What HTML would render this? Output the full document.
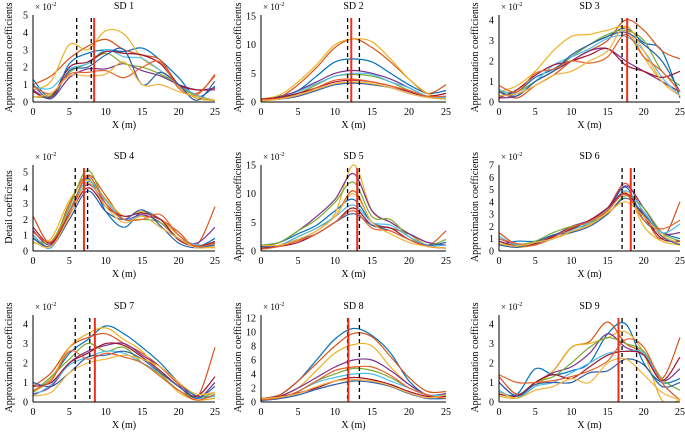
<!DOCTYPE html>
<html><head><meta charset="utf-8"><style>
body{margin:0;background:#fff}
svg{display:block;font-family:"Liberation Serif",serif}
</style></head><body>
<svg id="chart" width="685" height="432" viewBox="0 0 685 432"></svg>
<script>
// ---- data (values in units of 1e-2, sampled at X = 0,2.5,...,25 m) ----
const xSamples=[0,2.5,5,7.5,10,12.5,15,17.5,20,22.5,25];
const xTickLabels=[0,5,10,15,20,25];
const panelTitles=["SD 1","SD 2","SD 3","SD 4","SD 5","SD 6","SD 7","SD 8","SD 9"];
const yTitles=["Approximation coefficients","Approximation coefficients","Approximation coefficients","Detail coefficients","Approximation coefficients","Approximation coefficients","Approximation coefficients","Approximation coefficients","Approximation coefficients"];
const yTicks1=[0,1,2,3,4,5],yTicks2=[0,5,10,15],yTicks3=[0,1,2,3,4],yTicks4=[0,1,2,3,4,5],yTicks5=[0,5,10,15],yTicks6=[0,1,2,3,4,5,6,7],yTicks7=[0,1,2,3,4],yTicks8=[0,2,4,6,8,10,12],yTicks9=[0,1,2,3,4];
const dashedLines=[[6,8],[11.7,13.3],[17,19],[5.8,7.5],[11.7,13.3],[17,18.7],[5.8,7.8],[11.7,13.3],[17,19]];
const redLines=[8.4,12.2,17.7,7,13,18.2,8.5,11.8,16.5];
const sd1=[[1.3,0.3,2.2,2.8,3.0,2.9,3.1,2.4,1.4,0.3,0.9],[1.0,1.5,2.5,3.2,3.6,3.0,2.7,2.4,1.0,0.5,1.5],[0.7,1.2,3.3,3.0,4.1,3.9,2.5,1.8,0.9,0.2,0.1],[0.7,0.2,1.4,1.9,1.9,2.2,1.8,1.5,1.0,0.7,0.8],[0.3,0.4,1.7,2.2,2.8,2.2,2.0,1.6,1.0,0.3,0.1],[0.9,0.8,1.9,2.2,3.0,2.6,2.5,1.8,1.0,0.4,0.1],[0.6,0.3,2.0,2.3,2.9,2.8,2.7,2.2,1.0,0.7,0.7],[1.0,0.2,1.8,2.0,2.7,3.0,1.0,1.7,1.0,0.1,1.2],[0.9,0.5,1.6,1.7,1.8,1.4,2.0,2.3,0.8,0.4,1.6],[0.3,0.5,1.5,1.5,1.6,2.3,1.0,1.0,0.6,0.3,0.1]];
const sd2=[[0.5,1,2,4.5,7,7.5,7,5,3,1.5,2],[0.3,0.8,3,6,9.5,11,9.5,7,4,1.5,3],[0.5,1.2,3.5,6.5,10,11,10.5,7.5,4,1.5,0.5],[0.3,0.8,2,3.5,5,5.5,5,4,2.5,1,1],[0.4,0.7,1.5,3,4.5,4.8,4.5,3.5,2,1,0.5],[0.2,0.6,1.8,3.2,4.5,5,4.8,3.5,2.5,1,0.8],[0.5,0.8,1.5,2.5,3.5,3.8,3.5,2.8,1.8,1,1.5],[0.3,0.5,1,2,3,3.3,3,2.5,1.5,0.8,0.5],[0.4,0.6,1.2,2.5,3.8,4,3.5,2.8,2,1,1],[0.2,0.5,1.2,2.2,3.2,3.5,3.2,2.5,1.5,0.8,0.5]];
const sd3=[[0.3,0.5,1.2,1.6,2.2,2.8,3.2,3.6,2.9,2.5,0.2],[0.5,0.2,0.8,1.3,2.0,2.5,3.0,4.0,3.5,2.5,2.1],[0.5,0.8,1.5,2.5,3.2,3.3,3.5,3.6,2.2,1.0,0.5],[0.2,0.3,1.0,1.5,2.0,2.5,2.6,2.0,1.5,1.0,0.5],[0.5,0.5,1.0,1.5,2.2,2.8,3.3,3.5,3.0,1.5,0.8],[0.6,0.4,1.0,1.8,2.2,2.6,3.1,3.2,2.5,1.2,0.3],[0.2,0.6,1.3,1.8,2.0,2.3,2.6,1.8,1.5,1.2,1.5],[0.5,0.3,1.0,1.5,2.3,2.8,3.2,3.4,2.8,2.0,0.5],[0.8,0.5,1.4,1.6,2.0,1.9,2.2,3.3,2.2,1.5,0.5],[0.3,0.4,0.8,1.3,1.5,2.0,2.5,3.7,2.5,1.0,0.3]];
const sd4=[[1.0,0.3,2.5,4.6,2.5,1.5,2.5,2.0,1.0,0.3,0.8],[2.2,0.5,3.0,4.8,3.5,2.0,2.2,2.0,1.2,0.4,2.8],[0.5,0.8,3.2,4.5,3.3,2.2,2.5,2.0,1.0,0.3,0.2],[1.3,0.4,2.5,4.2,3.0,2.0,2.3,1.8,0.8,0.5,1.5],[0.8,0.6,2.8,5.1,3.0,2.0,2.0,1.8,0.8,0.3,0.5],[1.0,0.2,2.6,4.4,3.2,2.0,2.2,1.5,0.8,0.4,0.3],[1.5,0.5,2.3,4.0,2.8,2.2,2.4,2.0,0.7,0.3,0.6],[0.8,0.3,2.0,3.8,2.5,2.0,2.6,1.6,0.5,0.2,0.4],[1.2,0.6,2.5,4.7,3.0,2.0,2.0,2.3,1.0,0.3,0.5],[0.6,0.3,2.2,4.3,2.8,1.8,2.2,1.5,0.8,0.2,0.3]];
const sd5=[[1,1.5,3,4.5,7,9,5,4,3,1.5,1],[0.5,1,2.5,4,6,10.5,5,4,3,1,3.5],[0.5,1,2,3.5,6.5,15,7,5,3,1,0.5],[0.8,1.5,3.5,6,9,13.5,7,5,3,1.5,1],[1,1.5,3.5,5.5,8.5,12,6,5.5,2.5,1,2],[0.5,1,2.5,4,6,8,5,4.5,2.5,1,1],[0.5,0.8,1.5,3,5,7.5,4.5,4,2,0.8,0.5],[0.8,1,2,3,5,6.5,4.5,3.5,2,1,1.5],[0.3,0.8,1.8,3,5,7,4,3.5,2,0.8,0.5],[1,1,2,3.5,6,10,5,3,1.5,0.8,0.5]];
const sd6=[[0.5,0.8,0.8,1.3,1.8,2.2,3.3,5.2,2.5,1.5,1],[1.5,0.5,0.5,1.2,1.8,2.5,3.5,5.5,3.0,1,4],[0.8,0.3,0.5,1,1.5,2.2,3.2,4.8,2,0.8,0.5],[1,0.5,0.5,1.2,2,2.5,3.5,5.3,3.5,1.5,1.5],[0.5,0.5,0.8,1.5,2,2.3,3,4.5,3.5,1.5,0.8],[1.2,0.5,0.6,1,1.7,2.3,3.4,4.9,3.2,1.5,2.2],[0.8,0.4,0.6,1.2,1.8,2.5,3.5,4.7,2.8,1,0.8],[0.5,0.3,0.7,1.3,1.5,2.0,3.0,4.3,3.0,1.2,0.5],[1,0.6,0.5,1.1,1.9,2.4,3.3,4.6,2.5,1.8,2.5],[0.6,0.4,0.7,1.0,1.6,2.1,3.1,4.0,2.8,1.3,0.6]];
const sd7=[[0.5,1.2,2.5,3.2,3.9,3.5,2.8,2.0,1.0,0.3,0.3],[0.8,1.5,2.8,3.3,3.5,3.0,2.5,1.8,0.9,0.2,2.8],[0.5,1.2,2.8,3.5,3.8,3.2,2.6,1.5,0.5,0.1,0.2],[0.4,0.8,2.0,2.6,2.9,3.0,2.4,1.8,1.0,0.2,1.0],[0.5,1.3,2.2,3.0,2.6,2.8,2.0,1.4,0.6,0.2,0.5],[0.3,0.9,1.9,2.3,2.6,2.5,2.0,1.5,0.8,0.2,0.3],[0.8,1.0,2.0,2.5,3.0,2.9,2.3,1.6,0.8,0.3,1.3],[1.0,0.8,1.5,2.3,2.4,2.6,2.2,1.5,0.8,0.2,0.8],[0.6,1.1,2.6,2.2,2.5,2.3,2.0,1.3,0.6,0.1,0.4],[0.3,0.5,1.5,2.0,2.2,2.4,2.2,1.8,1.0,0.4,0.5]];
const sd8=[[0.5,1,3,6,9,10.5,9.5,7,3,1,1],[0.5,1,3,5.5,8,9.8,9.3,6.5,3.5,1.5,1.5],[0.3,0.8,2,4.5,7,8.2,8,5,2.5,1,0.5],[0.5,0.8,2,3.5,5,6,6,4.5,2.5,1,1.2],[0.3,0.5,1.5,3,4,4.8,4.5,3.5,2,1,0.5],[0.3,0.5,1.5,2.8,3.5,4,4,3,2,1,1],[0.5,0.8,1.3,2,3,3.5,3.2,2.5,1.5,0.8,0.8],[0.2,0.5,1,1.8,2.5,3,2.8,2.2,1.2,0.5,0.5],[0.3,0.6,1.5,3,4.5,5,5,3.8,2,1,0.5],[0.5,0.7,1.2,2.2,3,3.2,3,2.3,1.3,0.6,1]];
const sd9=[[0.5,0.4,1.7,1.4,1.6,2.0,3.5,4.0,2.0,1.0,1.2],[1.3,0.4,1.0,1.6,2.8,3.1,4.1,3.0,2.5,1.2,3.3],[0.3,0.2,0.8,1.6,2.8,3.0,3.3,3.6,2.5,0.1,0.1],[1.0,0.3,1.0,1.5,1.8,2.5,3.5,2.8,2.4,1.1,1.7],[0.4,0.3,1.0,1.3,2.0,2.8,3.3,3.0,2.6,1.2,0.6],[0.6,0.2,0.8,1.0,1.5,2.0,2.5,2.6,2.5,1.0,0.1],[0.4,0.3,1.0,1.4,1.2,1.8,2.4,2.6,2.4,1.1,2.3],[1.0,0.3,0.9,1.0,1.0,1.5,1.6,2.2,1.9,0.8,1.0],[1.4,1.0,1.0,1.1,1.3,1.6,2.1,3.2,2.8,1.0,0.1],[0.5,0.2,0.6,0.8,1.2,1.0,2.0,2.2,1.4,0.5,0.1]];
const seriesColors=["#0072BD","#D95319","#EDB120","#7E2F8E","#77AC30","#4DBEEE","#A2142F","#2F5FA8","#E8612C","#F2B33D"];

// ---- layout ----
const allSeries=[sd1,sd2,sd3,sd4,sd5,sd6,sd7,sd8,sd9];
const allTicks=[yTicks1,yTicks2,yTicks3,yTicks4,yTicks5,yTicks6,yTicks7,yTicks8,yTicks9];
const colX=[[33,215],[261,446],[499,680]];
const rowB=[102,251,402], rowTop=[13,163,313];
const topTickPx=[15,16,20,172,165,165,324,318,324];
const yTitleX=[12,241,478];
const NS="http://www.w3.org/2000/svg";
const svg=document.getElementById('chart');
function mk(tag,attrs,parent){const e=document.createElementNS(NS,tag);for(const k in attrs)e.setAttribute(k,attrs[k]);(parent||svg).appendChild(e);return e;}
function smoothPath(pts){let d=`M${pts[0][0].toFixed(1)},${pts[0][1].toFixed(1)}`;for(let i=0;i<pts.length-1;i++){const p0=pts[Math.max(0,i-1)],p1=pts[i],p2=pts[i+1],p3=pts[Math.min(pts.length-1,i+2)];const c1=[p1[0]+(p2[0]-p0[0])/6,p1[1]+(p2[1]-p0[1])/6],c2=[p2[0]-(p3[0]-p1[0])/6,p2[1]-(p3[1]-p1[1])/6];d+=` C${c1[0].toFixed(1)},${c1[1].toFixed(1)} ${c2[0].toFixed(1)},${c2[1].toFixed(1)} ${p2[0].toFixed(1)},${p2[1].toFixed(1)}`;}return d;}
for(let p=0;p<9;p++){
  const r=Math.floor(p/3),c=p%3;
  const x0=colX[c][0],x1=colX[c][1],yb=rowB[r];
  const ticks=allTicks[p],ymax=ticks[ticks.length-1];
  const ytop=topTickPx[p];
  const xs=v=>x0+(v/25)*(x1-x0);
  const ys=v=>yb-(v/ymax)*(yb-ytop);
  const g=mk('g',{});
  
  
  const cp=mk('clipPath',{id:'clip'+p},g);
  mk('rect',{x:x0,y:rowTop[r]-2,width:x1-x0+1,height:yb-rowTop[r]+2},cp);
  const sg=mk('g',{'clip-path':`url(#clip${p})`},g);
  allSeries[p].forEach((s,i)=>{
    const path=mk('path',{d:smoothPath(s.map((v,j)=>[xs(xSamples[j]),ys(v)])),fill:'none',stroke:seriesColors[i],'stroke-width':1.2},sg);
    
    
  });
  dashedLines[p].forEach(v=>{
    const l=mk('line',{x1:xs(v),x2:xs(v),y1:rowTop[r]+5,y2:yb,stroke:'#000','stroke-width':1.3,'stroke-dasharray':'4,3'},g);
    
    
  });
  const rl=mk('line',{x1:xs(redLines[p]),x2:xs(redLines[p]),y1:rowTop[r]+5,y2:yb,stroke:'#F0301E','stroke-width':2},g);
  
  
  const ya=mk('line',{x1:x0,x2:x0,y1:Math.min(ytop,rowTop[r]+2),y2:yb,stroke:'#000','stroke-width':1},g);
  
  
  const xa=mk('line',{x1:x0,x2:x1,y1:yb,y2:yb,stroke:'#000','stroke-width':1},g);
  
  
  ticks.forEach(t=>{
    const tl=mk('text',{x:x0-5,y:ys(t)+3.5,'text-anchor':'end','font-size':10},g);tl.textContent=t;
    
    
  });
  xTickLabels.forEach(t=>{
    const tl=mk('text',{x:xs(t),y:yb+13,'text-anchor':'middle','font-size':10},g);tl.textContent=t;
    
    
  });
  const tt=mk('text',{x:(x0+x1)/2,y:rowTop[r]-4,'text-anchor':'middle','font-size':10},g);tt.textContent=panelTitles[p];
  
  
  const sc=mk('text',{x:x0+2,y:rowTop[r]-3,'font-size':9},g);sc.innerHTML='× 10<tspan dy="-4" font-size="6">-2</tspan>';
  
  
  const xl=mk('text',{x:(x0+x1)/2,y:yb+26,'text-anchor':'middle','font-size':10},g);xl.textContent='X (m)';
  
  
  const cy=(rowTop[r]+yb)/2;
  const yl=mk('text',{x:yTitleX[c],y:cy,'text-anchor':'middle','font-size':10,transform:`rotate(-90 ${yTitleX[c]} ${cy})`},g);yl.textContent=yTitles[p];
  
  
}
</script>
</body></html>
